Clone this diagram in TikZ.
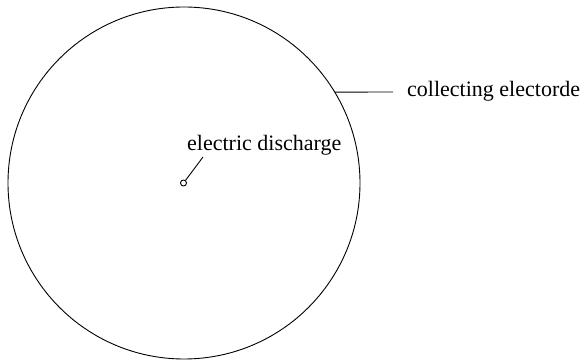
\documentclass[tikz,border=0pt]{standalone}
\usepackage{fontspec}
\setmainfont{Liberation Serif}
\begin{document}
\begin{tikzpicture}[x=1pt,y=1pt,
  ink/.style={line width=0.9pt,black},
  lbl/.style={inner sep=0pt,font=\fontsize{22}{26}\selectfont}]
\useasboundingbox (0,0) rectangle (582,-363);
% collecting electrode
\node[ink,draw,circle,minimum size=352pt,inner sep=0pt] (electrode) at (184,-183) {};
% discharge point
\node[ink,draw,circle,minimum size=6pt,inner sep=0pt] (spark) at (183.5,-183) {};
% labels
\node[lbl,anchor=base west] (dlabel) at (187,-151) {electric discharge};
\node[lbl,anchor=base west] (clabel) at (407,-97) {collecting electorde};
% leader lines
\coordinate (dtip) at (203,-157);
\coordinate (ctip) at (393,-92);
\draw[ink] (spark.53) -- (dtip);
\draw[ink] (electrode.31) -- (ctip);
\end{tikzpicture}
\end{document}
